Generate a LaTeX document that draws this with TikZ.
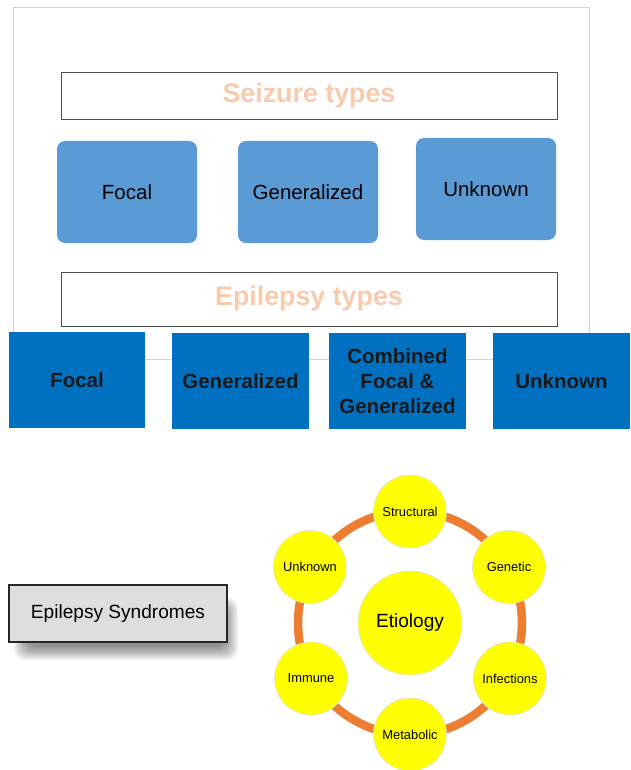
\documentclass[tikz,border=0pt]{standalone}
\usepackage{fontspec}
\setmainfont{Liberation Sans}
\definecolor{framec}{HTML}{C5D9EE}
\definecolor{seizc}{HTML}{5B9BD5}
\definecolor{epic}{HTML}{0070C0}
\definecolor{titlec}{HTML}{F8CBAD}
\definecolor{ringc}{HTML}{ED7D31}
\definecolor{yel}{HTML}{FFFF00}
\definecolor{graybox}{HTML}{DEDEDE}
\begin{document}
\begin{tikzpicture}[x=1pt,y=-1pt,
  titlebox/.style={draw=black!70,line width=0.9pt,fill=white,minimum width=496pt,inner sep=0pt,
     font=\fontsize{26.8}{30}\selectfont\bfseries,text=titlec},
  seizbox/.style={fill=seizc,rounded corners=8pt,minimum width=140pt,minimum height=102pt,inner sep=0pt,
     font=\fontsize{20.5}{24}\selectfont,text=black},
  epibox/.style={fill=epic,minimum width=137pt,minimum height=96pt,inner sep=0pt,align=center,
     font=\fontsize{20.5}{25}\selectfont\bfseries,text=black!90},
  smallc/.style={circle,fill=yel,draw=black!12,line width=0.6pt,minimum size=73pt,inner sep=0pt,
     font=\fontsize{12.9}{15}\selectfont,text=black}
]
\useasboundingbox (0,0) rectangle (630,770);
\fill[white] (0,0) rectangle (630,770);
% outer frame
\draw[framec,line width=1pt] (13,8) rectangle (589,359);
% seizure types
\node[titlebox,minimum height=47pt] (seizT) at (309,95.5) {Seizure types};
\node[seizbox] (sF) at (127,192) {Focal};
\node[seizbox] (sG) at (308,192) {Generalized};
\node[seizbox] (sU) at (486,189) {Unknown};
% epilepsy types
\node[titlebox,minimum height=54pt] (epiT) at (309,299) {Epilepsy types};
\node[epibox,minimum width=136pt] (bF) at (77,380) {Focal};
\node[epibox] (bG) at (240.5,381) {Generalized};
\node[epibox] (bC) at (397.5,381) {Combined\\Focal \&\\Generalized};
\node[epibox] (bU) at (561.5,381) {Unknown};
% shadow of epilepsy syndromes box
\foreach \i in {0,...,11}{
  \fill[black,opacity=0.045,rounded corners=10pt]
    (14+\i*1.2,598+\i*1.0) rectangle (238-\i*1.2,660-\i*1.2);
}
% epilepsy syndromes
\node[draw=black!85,line width=1.3pt,fill=graybox,minimum width=218pt,minimum height=57pt,inner sep=0pt,
  font=\fontsize{19.1}{22}\selectfont]
  (syn) at (118,613.5) {Epilepsy Syndromes};
% etiology ring
\coordinate (ctr) at (410,623);
\draw[ringc,line width=8.5pt] (ctr) ellipse [x radius=112pt,y radius=112pt];
\node[circle,fill=yel,draw=black!12,line width=0.6pt,minimum size=104pt,inner sep=0pt,
  font=\fontsize{19.1}{22}\selectfont] (eti) at (ctr) {Etiology};
\node[smallc] (str) at (410,511.5) {Structural};
\node[smallc] (gen) at (509,567) {Genetic};
\node[smallc] (inf) at (510,678.5) {Infections};
\node[smallc] (met) at (410,734.5) {Metabolic};
\node[smallc] (imm) at (311,678.5) {Immune};
\node[smallc] (unk) at (310,567) {Unknown};
\end{tikzpicture}
\end{document}
